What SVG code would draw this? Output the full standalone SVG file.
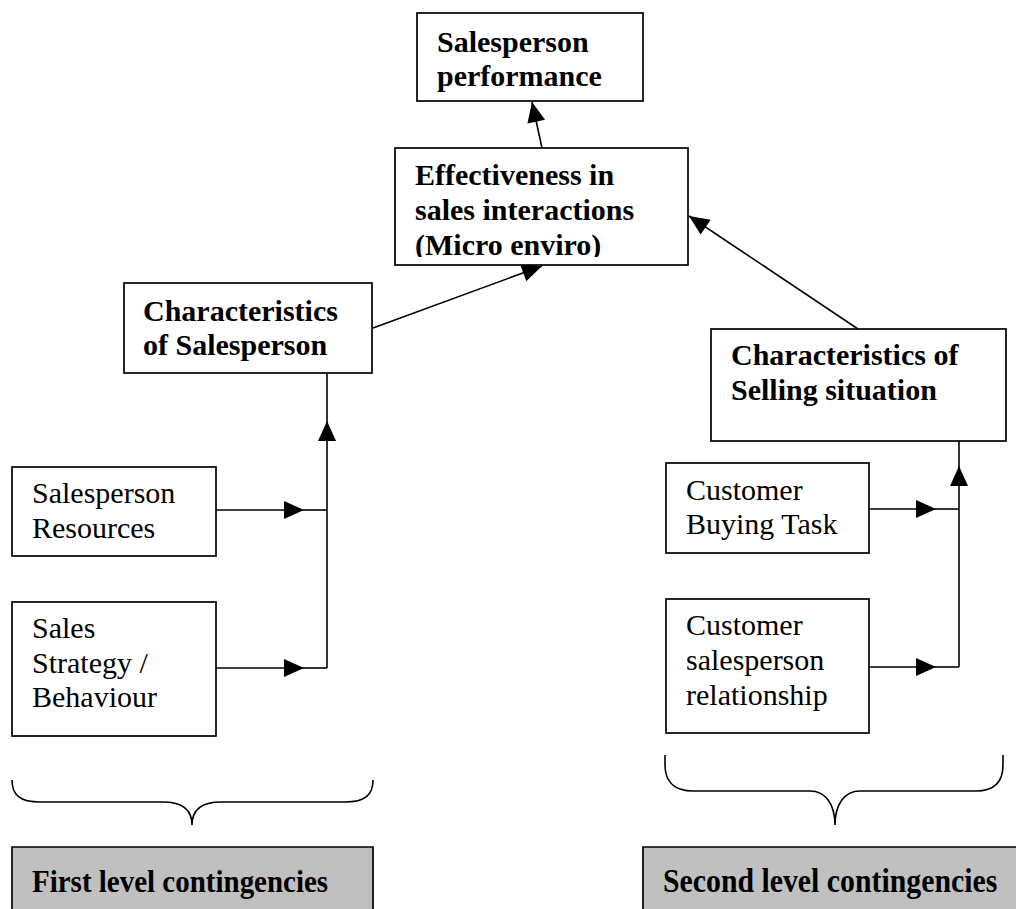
<svg xmlns="http://www.w3.org/2000/svg" width="1016" height="909" viewBox="0 0 1016 909">
<style>
.box{fill:#fff;stroke:#000;stroke-width:1.7}
.grayfill{fill:#c0c0c0;stroke:none}
.grayedge{fill:none;stroke:#000;stroke-width:1.7}
.b{font-family:"Liberation Serif","Times New Roman",serif;font-weight:bold;font-size:30px;fill:#000}
.r{font-family:"Liberation Serif","Times New Roman",serif;font-size:30px;fill:#000}
.lbl{font-family:"Liberation Serif","Times New Roman",serif;font-weight:bold;fill:#000}
.ln{fill:none;stroke:#000;stroke-width:1.6}
.brace{fill:none;stroke:#000;stroke-width:1.6}
</style>
<defs>
<marker id="ah" markerUnits="userSpaceOnUse" markerWidth="20" markerHeight="18" refX="20" refY="9" orient="auto" overflow="visible">
<path d="M0,0 L20,9 L0,18 Z" fill="#000"/>
</marker>
<clipPath id="effclip"><rect x="395" y="148" width="293" height="109"/></clipPath>
</defs>
<rect width="1016" height="909" fill="#fff"/>

<g id="connectors">
<path class="ln" d="M542,148 L532,102" marker-end="url(#ah)"/>
<path class="ln" d="M373,328 L542,266" marker-end="url(#ah)"/>
<path class="ln" d="M858,329 L689,216" marker-end="url(#ah)"/>
<path class="ln" d="M327,668 L327,421" marker-end="url(#ah)"/>
<path class="ln" d="M327,421 L327,373"/>
<path class="ln" d="M216,510 L304,510" marker-end="url(#ah)"/>
<path class="ln" d="M304,510 L327,510"/>
<path class="ln" d="M216,668 L304,668" marker-end="url(#ah)"/>
<path class="ln" d="M304,668 L327,668"/>
<path class="ln" d="M959,667 L959,466" marker-end="url(#ah)"/>
<path class="ln" d="M959,466 L959,441"/>
<path class="ln" d="M869,509 L936,509" marker-end="url(#ah)"/>
<path class="ln" d="M936,509 L959,509"/>
<path class="ln" d="M869,667 L936,667" marker-end="url(#ah)"/>
<path class="ln" d="M936,667 L959,667"/>
</g>

<g id="perf">
<rect class="box" x="417" y="13" width="226" height="88"/>
<text class="b" x="437" y="52">Salesperson</text>
<text class="b" x="437" y="86">performance</text>
</g>

<g id="effectiveness">
<rect class="box" x="395" y="148" width="293" height="117"/>
<g clip-path="url(#effclip)">
<text class="b" x="415" y="185">Effectiveness in</text>
<text class="b" x="415" y="220">sales interactions</text>
<text class="b" x="415" y="255">(Micro enviro)</text>
</g>
</g>

<g id="char-salesperson">
<rect class="box" x="124" y="283" width="248" height="90"/>
<text class="b" x="143" y="321">Characteristics</text>
<text class="b" x="143" y="355">of Salesperson</text>
</g>

<g id="char-selling">
<rect class="box" x="711" y="329" width="295" height="112"/>
<text class="b" x="731" y="365">Characteristics of</text>
<text class="b" x="731" y="400">Selling situation</text>
</g>

<g id="sp-resources">
<rect class="box" x="12" y="467" width="204" height="89"/>
<text class="r" x="32" y="503">Salesperson</text>
<text class="r" x="32" y="538">Resources</text>
</g>

<g id="sales-strategy">
<rect class="box" x="12" y="602" width="204" height="134"/>
<text class="r" x="32" y="638">Sales</text>
<text class="r" x="32" y="673">Strategy /</text>
<text class="r" x="32" y="707">Behaviour</text>
</g>

<g id="buying-task">
<rect class="box" x="666" y="463" width="203" height="90"/>
<text class="r" x="686" y="500">Customer</text>
<text class="r" x="686" y="534">Buying Task</text>
</g>

<g id="relationship">
<rect class="box" x="666" y="599" width="203" height="134"/>
<text class="r" x="686" y="635">Customer</text>
<text class="r" x="686" y="670">salesperson</text>
<text class="r" x="686" y="705">relationship</text>
</g>

<g id="brace-first">
<path class="brace" d="M12,780 C12,795 20,802 40,802 L163,802 C182,802 192,810 192,825 C192,810 202,802 221,802 L345,802 C365,802 373,795 373,780"/>
</g>

<g id="brace-second">
<path class="brace" d="M665,755 L665,765 C665,782 675,791 693,791 L810,791 C826,791 835,805 835,825 C835,805 844,791 860,791 L976,791 C994,791 1003,782 1003,765 L1003,755"/>
</g>

<g id="first-level">
<rect class="grayfill" x="12" y="847" width="361" height="62"/>
<path class="grayedge" d="M12,909 L12,847 L373,847 L373,909"/>
<text class="lbl" font-size="29" transform="translate(32,892) scale(1,1.12)">First level contingencies</text>
</g>

<g id="second-level">
<rect class="grayfill" x="643" y="847" width="373" height="62"/>
<path class="grayedge" d="M643,909 L643,847 L1016,847"/>
<text class="lbl" font-size="29.8" transform="translate(663,892) scale(1,1.1)">Second level contingencies</text>
</g>
</svg>
